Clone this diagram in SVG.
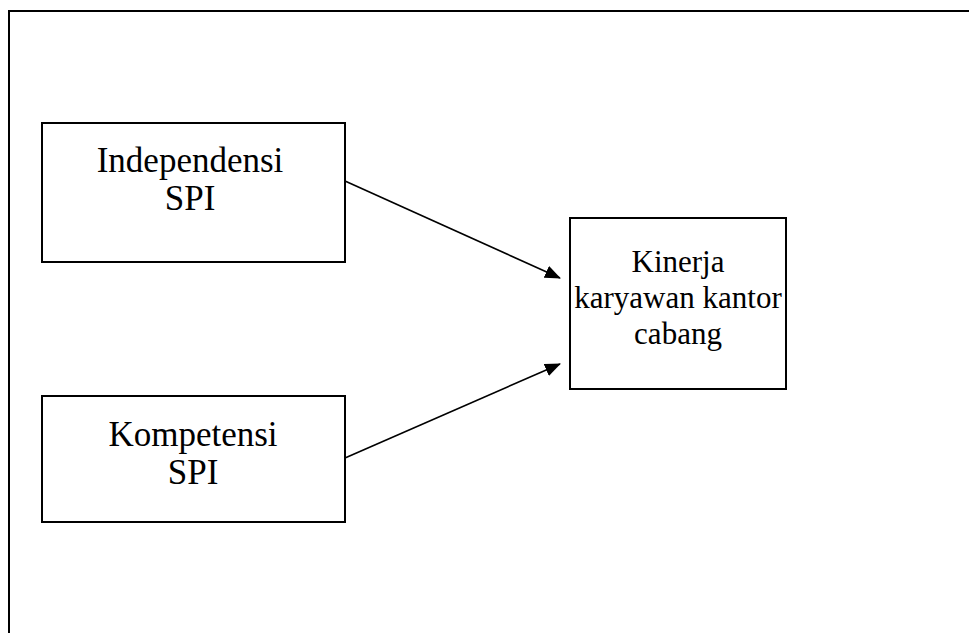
<svg xmlns="http://www.w3.org/2000/svg" width="969" height="633" viewBox="0 0 969 633">
<style>
.box{fill:#fff;stroke:#000;stroke-width:2}
.t{font-family:"Liberation Serif","Times New Roman",serif;font-size:35px;fill:#000;text-anchor:middle}
.s{font-size:31px}
.c{stroke:#000;stroke-width:1.6;fill:none}
</style>
<defs>
<marker id="ah" markerWidth="16" markerHeight="13" refX="15" refY="6.5" orient="auto" markerUnits="userSpaceOnUse">
<path d="M0,0 L16,6.5 L0,13 Z" fill="#000"/>
</marker>
</defs>
<rect width="969" height="633" fill="#fff"/>
<g id="frame">
<path d="M9,633 V11 H969" fill="none" stroke="#000" stroke-width="2"/>
</g>
<g id="n1">
<rect class="box" x="42" y="123" width="303" height="139"/>
<text class="t" x="190" y="172">Independensi</text>
<text class="t" x="190" y="210">SPI</text>
</g>
<g id="n2">
<rect class="box" x="42" y="396" width="303" height="126"/>
<text class="t" x="193" y="446">Kompetensi</text>
<text class="t" x="193" y="484">SPI</text>
</g>
<g id="n3">
<rect class="box" x="570" y="218" width="216" height="171"/>
<text class="t s" x="678" y="272">Kinerja</text>
<text class="t s" x="678" y="308">karyawan kantor</text>
<text class="t s" x="678" y="344">cabang</text>
</g>
<g id="connectors">
<line class="c" x1="345" y1="181" x2="560" y2="278" marker-end="url(#ah)"/>
<line class="c" x1="345" y1="458" x2="560" y2="364" marker-end="url(#ah)"/>
</g>
</svg>
